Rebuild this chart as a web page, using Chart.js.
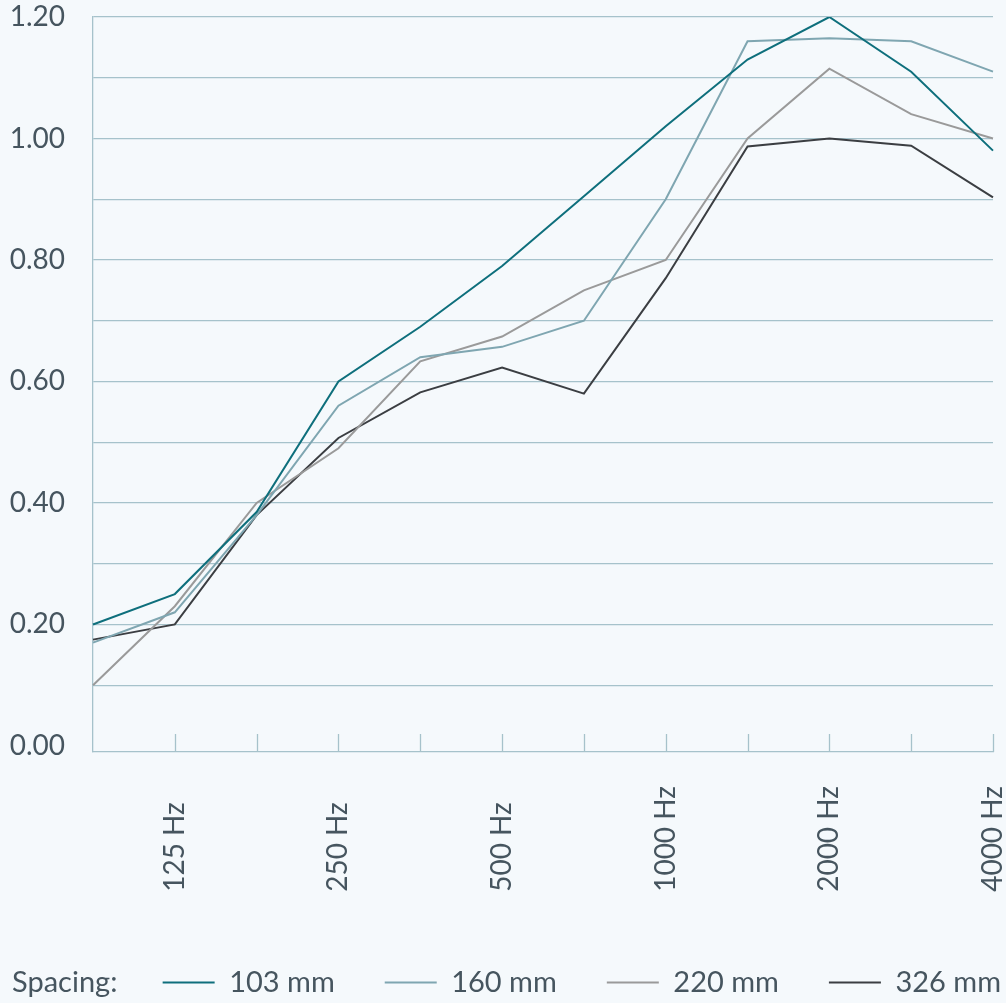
<!DOCTYPE html>
<html>
<head>
<meta charset="utf-8">
<script src="https://cdn.jsdelivr.net/npm/chart.js@4.4.1/dist/chart.umd.min.js"></script>
<style>
html, body { margin: 0; padding: 0; background: #f5f9fc; }
#wrap { width: 1006px; height: 1003px; position: relative; }
</style>
</head>
<body>
<div id="wrap"><canvas id="chart"></canvas></div>
<script>
// ---- data ----
const categories = ['', '125 Hz', '', '250 Hz', '', '500 Hz', '', '1000 Hz', '', '2000 Hz', '', '4000 Hz'];
const series103 = [0.20, 0.25, 0.385, 0.60, 0.69, 0.79, 0.905, 1.02, 1.13, 1.20, 1.11, 0.98];
const series160 = [0.17, 0.22, 0.38, 0.56, 0.64, 0.657, 0.70, 0.90, 1.16, 1.165, 1.16, 1.11];
const series220 = [0.10, 0.23, 0.40, 0.49, 0.633, 0.674, 0.75, 0.80, 1.00, 1.115, 1.04, 1.00];
const series326 = [0.175, 0.20, 0.38, 0.507, 0.582, 0.623, 0.58, 0.77, 0.987, 1.00, 0.988, 0.903];
const seriesNames = ['103 mm', '160 mm', '220 mm', '326 mm'];
const yTickValues = [0, 0.1, 0.2, 0.3, 0.4, 0.5, 0.6, 0.7, 0.8, 0.9, 1.0, 1.1, 1.2];
const legendTitle = 'Spacing:';

// ---- styles ----
const colors = ['#0e6f7c', '#7fa6b1', '#9a9a9a', '#3b3e42'];
const gridColor = '#a6c2cb';
const textColor = '#46555f';
const fontFamily = 'Lato, "Open Sans", sans-serif';
const bg = '#f5f9fc';

const maxLabelLen = Math.max(...categories.map(c => c.length));

const bgPlugin = {
  id: 'bg',
  beforeDraw(chart) {
    const ctx = chart.ctx;
    ctx.save();
    ctx.fillStyle = bg;
    ctx.fillRect(0, 0, chart.width, chart.height);
    ctx.restore();
  }
};

const innerTicks = {
  id: 'innerTicks',
  beforeDatasetsDraw(chart) {
    const { ctx, chartArea, scales } = chart;
    const x = scales.x;
    ctx.save();
    ctx.strokeStyle = gridColor;
    ctx.lineWidth = 1.3;
    x.ticks.forEach((t, i) => {
      if (i === 0) return;
      const px = Math.round(x.getPixelForTick(i)) + 0.5;
      ctx.beginPath();
      ctx.moveTo(px, chartArea.bottom);
      ctx.lineTo(px, chartArea.bottom - 18);
      ctx.stroke();
    });
    ctx.restore();
  }
};

const legendCaption = {
  id: 'legendCaption',
  afterDraw(chart) {
    const lg = chart.legend;
    if (!lg || !lg.legendHitBoxes || !lg.legendHitBoxes.length) return;
    const hb = lg.legendHitBoxes[0];
    const ctx = chart.ctx;
    ctx.save();
    ctx.font = '29px ' + fontFamily;
    ctx.fillStyle = textColor;
    ctx.textBaseline = 'middle';
    ctx.textAlign = 'left';
    ctx.fillText(legendTitle, 12, hb.top + hb.height / 2);
    ctx.restore();
  }
};

const allSeries = [series103, series160, series220, series326];

new Chart(document.getElementById('chart'), {
  type: 'line',
  data: {
    labels: categories,
    datasets: allSeries.map((s, i) => ({
      label: seriesNames[i],
      data: s,
      borderColor: colors[i],
      backgroundColor: colors[i],
      borderWidth: 2,
      pointRadius: 0,
      tension: 0,
      fill: false
    }))
  },
  options: {
    responsive: true,
    maintainAspectRatio: false,
    animation: false,
    layout: { padding: { top: 17, left: 0, right: -45, bottom: -4 } },
    plugins: {
      tooltip: { enabled: false },
      legend: {
        position: 'bottom',
        align: 'end',
        labels: {
          boxWidth: 52,
          boxHeight: 2,
          padding: 50,
          color: textColor,
          font: { family: fontFamily, size: 29 },
          generateLabels(chart) {
            return Chart.defaults.plugins.legend.labels.generateLabels(chart).map(l => Object.assign(l, { lineWidth: 0 }));
          }
        }
      }
    },
    scales: {
      x: {
        type: 'category',
        offset: false,
        grid: { display: false },
        border: { display: true, color: gridColor, width: 1.3 },
        ticks: {
          autoSkip: false,
          minRotation: 90,
          maxRotation: 90,
          padding: 26,
          color: textColor,
          font: { family: fontFamily, size: 28 },
          callback: (v, i) => {
            const t = categories[i];
            return t ? t + '\u2007'.repeat(maxLabelLen - t.length) : '';
          }
        },
        afterFit(s) { s.height = 166; s.paddingLeft = 0; s.paddingRight = 13; }
      },
      y: {
        min: -0.01,
        max: 1.2,
        afterBuildTicks(s) { s.ticks = yTickValues.map(v => ({ value: v })); },
        afterFit(s) { s.width = 93; s.paddingTop = 0; s.paddingBottom = 0; },
        grid: {
          drawTicks: false,
          lineWidth: 1.3,
          color: c => (c.tick && c.tick.value === 0) ? 'rgba(0,0,0,0)' : gridColor
        },
        border: { display: true, color: gridColor, width: 1.3 },
        ticks: {
          padding: 28,
          color: textColor,
          font: { family: fontFamily, size: 28 },
          callback: v => (Math.round(v * 10) % 2 === 0) ? v.toFixed(2) : ''
        }
      }
    }
  },
  plugins: [bgPlugin, innerTicks, legendCaption]
});
</script>
</body>
</html>
